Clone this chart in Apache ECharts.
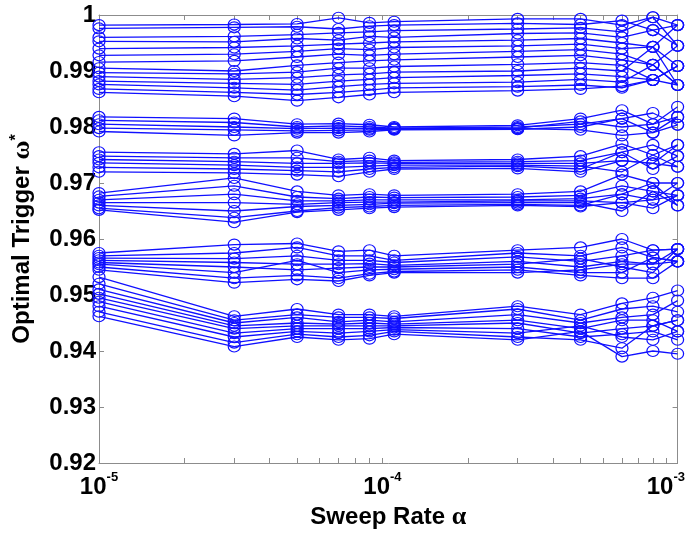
<!DOCTYPE html>
<html>
<head>
<meta charset="utf-8">
<script src="https://cdn.jsdelivr.net/npm/echarts@6/dist/echarts.min.js"></script>
<style>
html,body{margin:0;padding:0;background:#fff;}
#chart{width:688px;height:537px;}
</style>
</head>
<body>
<div id="chart"></div>
<script>
// Sweep rates (x values)
const sweepRates = [1e-5, 3e-5, 5e-5, 7e-5, 9e-5, 1.1e-4, 3e-4, 5e-4, 7e-4, 9e-4, 1.1e-3];

// Tick values
const yTicks = [0.92, 0.93, 0.94, 0.95, 0.96, 0.97, 0.98, 0.99, 1];
const xMajorTicks = [1e-5, 1e-4, 1e-3];
const xMinorTicks = [2e-5,3e-5,4e-5,5e-5,6e-5,7e-5,8e-5,9e-5,2e-4,3e-4,4e-4,5e-4,6e-4,7e-4,8e-4,9e-4];

// Optimal trigger values, grouped by band
const bandTop = [
  [0.9982,0.9983,0.9984,0.9995,0.9986,0.9988,0.9993,0.9993,0.9982,0.9996,0.9982],
  [0.9976,0.9978,0.9979,0.9975,0.9980,0.9982,0.9985,0.9983,0.9990,0.9973,0.9982],
  [0.9960,0.9962,0.9965,0.9968,0.9970,0.9972,0.9975,0.9977,0.9970,0.9996,0.9945],
  [0.9953,0.9952,0.9958,0.9955,0.9962,0.9960,0.9967,0.9968,0.9960,0.9973,0.9945],
  [0.9940,0.9942,0.9945,0.9948,0.9950,0.9952,0.9955,0.9958,0.9950,0.9943,0.9982],
  [0.9928,0.9930,0.9935,0.9940,0.9938,0.9942,0.9945,0.9948,0.9940,0.9943,0.9909],
  [0.9916,0.9918,0.9925,0.9930,0.9928,0.9930,0.9935,0.9938,0.9930,0.9911,0.9945],
  [0.9905,0.9900,0.9910,0.9915,0.9918,0.9920,0.9925,0.9928,0.9920,0.9911,0.9875],
  [0.9897,0.9895,0.9898,0.9905,0.9905,0.9908,0.9912,0.9915,0.9910,0.9884,0.9909],
  [0.9890,0.9885,0.9888,0.9893,0.9895,0.9898,0.9900,0.9905,0.9900,0.9943,0.9875],
  [0.9882,0.9878,0.9876,0.9882,0.9885,0.9888,0.9892,0.9895,0.9890,0.9884,0.9909],
  [0.9876,0.9870,0.9866,0.9872,0.9876,0.9878,0.9880,0.9885,0.9880,0.9911,0.9875],
  [0.9868,0.9862,0.9858,0.9862,0.9866,0.9870,0.9872,0.9875,0.9870,0.9884,0.9875],
  [0.9862,0.9855,0.9847,0.9853,0.9858,0.9862,0.9865,0.9868,0.9873,0.9884,0.9909]
];
const band098 = [
  [0.9818,0.9815,0.9805,0.9806,0.9804,0.9800,0.9803,0.9815,0.9830,0.9805,0.9836],
  [0.9812,0.9808,0.9800,0.9802,0.9800,0.9798,0.9800,0.9805,0.9815,0.9825,0.9804],
  [0.9805,0.9800,0.9797,0.9798,0.9797,0.9797,0.9798,0.9810,0.9800,0.9805,0.9818],
  [0.9798,0.9795,0.9793,0.9794,0.9795,0.9796,0.9797,0.9795,0.9785,0.9790,0.9804],
  [0.9792,0.9785,0.9790,0.9790,0.9792,0.9795,0.9796,0.9800,0.9815,0.9790,0.9818]
];
const band0974 = [
  [0.9755,0.9752,0.9758,0.9742,0.9745,0.9740,0.9742,0.9748,0.9770,0.9750,0.9768],
  [0.9748,0.9745,0.9745,0.9738,0.9740,0.9737,0.9738,0.9740,0.9755,0.9768,0.9748],
  [0.9742,0.9738,0.9735,0.9735,0.9736,0.9735,0.9735,0.9735,0.9740,0.9735,0.9768],
  [0.9736,0.9732,0.9728,0.9728,0.9730,0.9732,0.9732,0.9730,0.9720,0.9750,0.9729],
  [0.9728,0.9725,0.9722,0.9720,0.9725,0.9728,0.9730,0.9725,0.9755,0.9725,0.9748],
  [0.9720,0.9718,0.9715,0.9712,0.9720,0.9725,0.9726,0.9720,0.9740,0.9735,0.9729]
];
const band0967 = [
  [0.9682,0.9709,0.9685,0.9678,0.9680,0.9678,0.9680,0.9685,0.9715,0.9700,0.9700],
  [0.9676,0.9695,0.9675,0.9672,0.9675,0.9674,0.9675,0.9678,0.9695,0.9685,0.9678],
  [0.9670,0.9680,0.9668,0.9668,0.9670,0.9670,0.9670,0.9672,0.9680,0.9700,0.9660],
  [0.9665,0.9665,0.9662,0.9665,0.9666,0.9666,0.9668,0.9668,0.9665,0.9670,0.9678],
  [0.9660,0.9650,0.9658,0.9660,0.9662,0.9664,0.9665,0.9665,0.9650,0.9685,0.9660],
  [0.9655,0.9638,0.9650,0.9656,0.9658,0.9660,0.9662,0.9660,0.9680,0.9670,0.9700],
  [0.9652,0.9630,0.9648,0.9652,0.9655,0.9657,0.9660,0.9658,0.9665,0.9655,0.9678]
];
const band0956 = [
  [0.9575,0.9590,0.9592,0.9578,0.9580,0.9570,0.9580,0.9585,0.9600,0.9580,0.9582],
  [0.9570,0.9575,0.9585,0.9570,0.9570,0.9562,0.9575,0.9570,0.9585,0.9567,0.9560],
  [0.9566,0.9565,0.9570,0.9562,0.9562,0.9558,0.9568,0.9560,0.9570,0.9580,0.9582],
  [0.9562,0.9558,0.9555,0.9555,0.9556,0.9553,0.9560,0.9550,0.9560,0.9555,0.9560],
  [0.9558,0.9550,0.9545,0.9548,0.9550,0.9550,0.9555,0.9565,0.9550,0.9540,0.9582],
  [0.9555,0.9540,0.9562,0.9540,0.9545,0.9546,0.9550,0.9540,0.9540,0.9567,0.9560],
  [0.9550,0.9530,0.9535,0.9530,0.9538,0.9542,0.9545,0.9535,0.9530,0.9530,0.9560],
  [0.9545,0.9522,0.9528,0.9525,0.9535,0.9540,0.9540,0.9545,0.9555,0.9555,0.9582]
];
const band0945 = [
  [0.9532,0.9462,0.9475,0.9465,0.9465,0.9462,0.9480,0.9465,0.9485,0.9495,0.9508],
  [0.9520,0.9455,0.9465,0.9460,0.9460,0.9458,0.9475,0.9455,0.9475,0.9480,0.9470],
  [0.9510,0.9450,0.9460,0.9452,0.9455,0.9452,0.9465,0.9450,0.9460,0.9465,0.9490],
  [0.9502,0.9445,0.9450,0.9448,0.9450,0.9448,0.9455,0.9440,0.9455,0.9455,0.9435],
  [0.9495,0.9440,0.9445,0.9445,0.9445,0.9445,0.9450,0.9432,0.9440,0.9445,0.9455],
  [0.9488,0.9432,0.9440,0.9440,0.9440,0.9442,0.9440,0.9425,0.9430,0.9435,0.9420],
  [0.9480,0.9425,0.9435,0.9432,0.9435,0.9438,0.9432,0.9445,0.9425,0.9420,0.9435],
  [0.9470,0.9415,0.9430,0.9425,0.9428,0.9435,0.9425,0.9420,0.9405,0.9445,0.9455],
  [0.9462,0.9408,0.9425,0.9420,0.9422,0.9430,0.9420,0.9435,0.9390,0.9400,0.9395]
];

const allBands = [bandTop, band098, band0974, band0967, band0956, band0945];

const BLUE = '#1010ff';
const series = [];
allBands.forEach(function (band) {
  band.forEach(function (row) {
    series.push({
      type: 'line',
      color: BLUE,
      data: row.map(function (v, i) { return [sweepRates[i], v]; }),
      symbol: 'circle',
      symbolSize: [12, 11],
      showSymbol: true,
      showAllSymbol: true,
      lineStyle: { color: BLUE, width: 1.3 },
      itemStyle: { color: 'rgba(0,0,0,0)', borderColor: BLUE, borderWidth: 1.2 },
      emphasis: { disabled: true },
      clip: false,
      z: 2
    });
  });
});

const FONT = 'Liberation Sans, Arial, sans-serif';
const AXISCOL = '#8c8c8c';

const chart = echarts.init(document.getElementById('chart'));
chart.setOption({
  animation: false,
  backgroundColor: '#fff',
  color: [BLUE],
  grid: { left: 99, right: 8, top: 15, bottom: 74 },
  xAxis: [{
    type: 'log',
    min: 1e-5,
    max: 1.1e-3,
    position: 'bottom',
    axisLine: { show: true, lineStyle: { color: AXISCOL, width: 1 } },
    axisTick: { show: true, inside: true, length: 5, lineStyle: { color: AXISCOL },
      customValues: xMajorTicks.concat(xMinorTicks) },
    axisLabel: {
      customValues: xMajorTicks,
      margin: 8,
      formatter: function (v) {
        const e = Math.round(Math.log10(v));
        return '{b|10}{s|' + e + '}';
      },
      rich: {
        b: { fontFamily: FONT, fontWeight: 'bold', fontSize: 24, color: '#000', lineHeight: 28, verticalAlign: 'bottom' },
        s: { fontFamily: FONT, fontWeight: 'bold', fontSize: 13, color: '#000', lineHeight: 28, verticalAlign: 'top', padding: [0, 0, 12, 0] }
      }
    },
    splitLine: { show: false },
    name: 'Sweep Rate {a|α}',
    nameLocation: 'middle',
    nameGap: 41,
    nameTextStyle: {
      fontFamily: FONT, fontWeight: 'bold', fontSize: 24, color: '#000',
      rich: { a: { fontFamily: 'Liberation Serif, serif', fontSize: 26, color: '#000' } }
    }
  }, {
    type: 'log',
    min: 1e-5,
    max: 1.1e-3,
    position: 'top',
    axisLine: { show: true, lineStyle: { color: AXISCOL, width: 1 } },
    axisTick: { show: true, inside: true, length: 5, lineStyle: { color: AXISCOL },
      customValues: xMajorTicks.concat(xMinorTicks) },
    axisLabel: { show: false },
    splitLine: { show: false }
  }],
  yAxis: [{
    type: 'value',
    min: 0.92,
    max: 1,
    interval: 0.01,
    position: 'left',
    axisLine: { show: true, lineStyle: { color: AXISCOL, width: 1 } },
    axisTick: { show: true, inside: true, length: 5, lineStyle: { color: AXISCOL } },
    axisLabel: {
      margin: 3,
      fontFamily: FONT, fontWeight: 'bold', fontSize: 24, color: '#000',
      formatter: function (v) { return Math.abs(v - 1) < 1e-9 ? '1' : v.toFixed(2); }
    },
    splitLine: { show: false },
    name: 'Optimal Trigger {w|ω}{s|*}',
    nameLocation: 'middle',
    nameGap: 64,
    nameRotate: 90,
    nameTextStyle: {
      fontFamily: FONT, fontWeight: 'bold', fontSize: 24, color: '#000',
      rich: {
        w: { fontFamily: 'Liberation Serif, serif', fontSize: 26, color: '#000' },
        s: { fontFamily: FONT, fontWeight: 'bold', fontSize: 16, color: '#000', verticalAlign: 'top', padding: [0, 0, 10, 0] }
      }
    }
  }, {
    type: 'value',
    min: 0.92,
    max: 1,
    interval: 0.01,
    position: 'right',
    axisLine: { show: true, lineStyle: { color: AXISCOL, width: 1 } },
    axisTick: { show: true, inside: true, length: 5, lineStyle: { color: AXISCOL } },
    axisLabel: { show: false },
    splitLine: { show: false }
  }],
  series: series
});
</script>
</body>
</html>
